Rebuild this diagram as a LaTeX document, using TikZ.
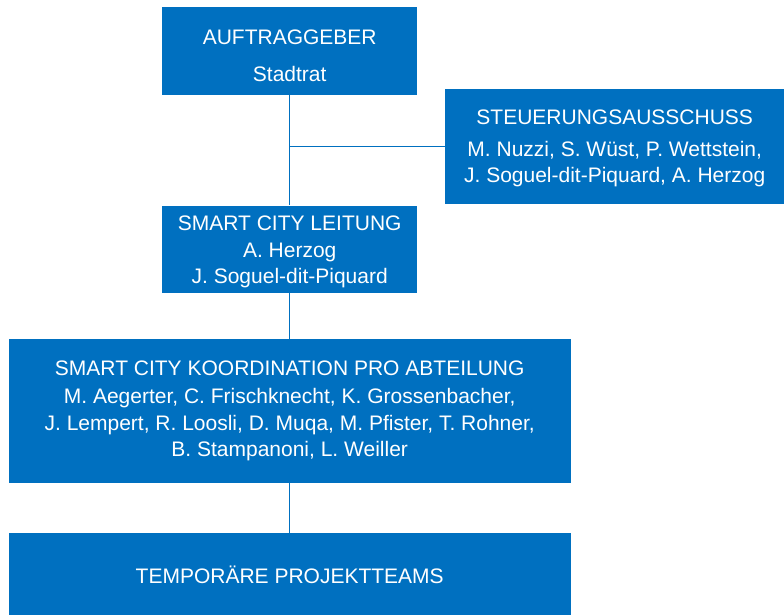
\documentclass[tikz,border=0pt]{standalone}
\usepackage{fontspec}
\setmainfont{Liberation Sans}
\usetikzlibrary{positioning}
\definecolor{orgblue}{RGB}{0,112,192}
\newcommand{\topstrut}[1]{\rule{0pt}{#1}}

\begin{document}
\begin{tikzpicture}[
            x=1pt, y=-1pt,
            node distance=46pt,
            orgbox/.style={rectangle, fill=orgblue, text=white, align=center, inner sep=0pt,
                font=\fontsize{21}{26.5}\selectfont},
            link/.style={draw=orgblue, line width=1.5pt}
        ]
            \useasboundingbox (0,0) rectangle (784,615);
            \node[orgbox, minimum width=255pt, minimum height=88pt, anchor=north west] (auftrag) at (162,7)
                {\topstrut{23pt}AUFTRAGGEBER\\[10.5pt]Stadtrat};
            \node[orgbox, minimum width=255pt, minimum height=87pt, below=110pt of auftrag] (leitung)
                {\topstrut{21pt}SMART CITY LEITUNG\\A. Herzog\\J. Soguel-dit-Piquard};
            \node[orgbox, minimum width=339pt, minimum height=115pt, anchor=north west] (steuerung) at (445,89)
                {\topstrut{18pt}STEUERUNGSAUSSCHUSS\\[5pt]M. Nuzzi, S. W\"ust, P. Wettstein,\\J. Soguel-dit-Piquard, A. Herzog};
            \node[orgbox, minimum width=562pt, minimum height=144pt, below=of leitung] (koord)
                {SMART CITY KOORDINATION PRO ABTEILUNG\\[1.5pt]M. Aegerter, C. Frischknecht, K. Grossenbacher,\\J. Lempert, R. Loosli, D. Muqa, M. Pfister, T. Rohner,\\B. Stampanoni, L. Weiller};
            \node[orgbox, minimum width=562pt, minimum height=83pt, below=50pt of koord] (projekt)
                {TEMPOR\"ARE PROJEKTTEAMS};

            \coordinate (junction) at (auftrag.south |- steuerung.west);
            \draw[link] (auftrag) -- (leitung);
            \draw[link] (junction) -- (steuerung);
            \draw[link] (leitung) -- (koord);
            \draw[link] (koord) -- (projekt);
        \end{tikzpicture}
\end{document}
